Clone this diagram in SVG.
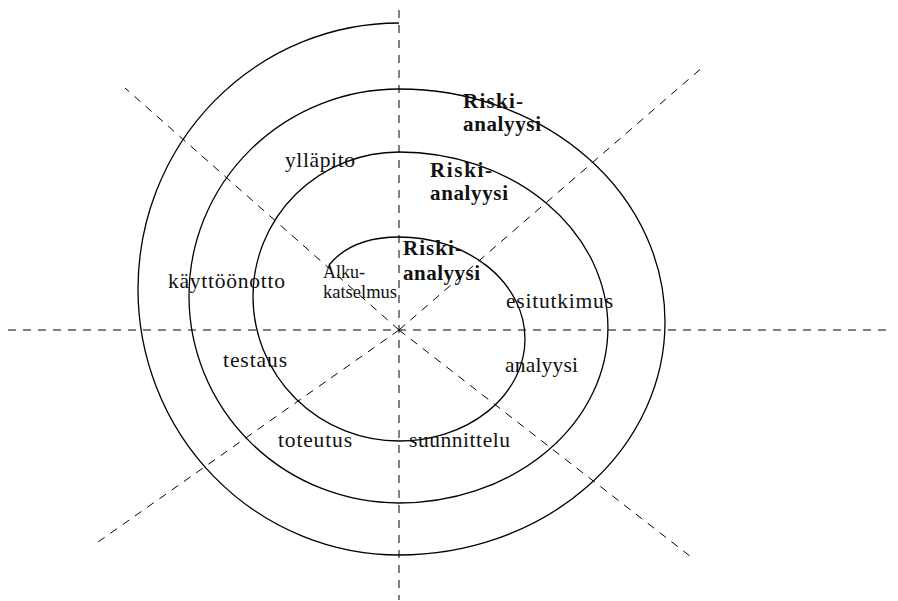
<svg xmlns="http://www.w3.org/2000/svg" width="898" height="601" viewBox="0 0 898 601">
  <style>
    .axis { stroke: #000; stroke-width: 1; stroke-dasharray: 8 7; fill: none; }
    .spiral { stroke: #000; stroke-width: 1.3; fill: none; }
    .lbl { font-family: "Liberation Serif", "Times New Roman", serif; font-size: 21.5px; fill: #111; }
    .small { font-size: 19px; }
    .risk { font-weight: bold; font-size: 21px; }
  </style>
  <rect width="898" height="601" fill="#fff"/>

  <!-- dashed sector axes -->
  <g id="axes">
    <line class="axis" x1="8" y1="330" x2="893" y2="330"/>
    <line class="axis" x1="399" y1="10" x2="399" y2="600"/>
    <line class="axis" x1="399" y1="330" x2="704" y2="66"/>
    <line class="axis" x1="399" y1="330" x2="98" y2="542"/>
    <line class="axis" x1="399" y1="330" x2="125" y2="88"/>
    <line class="axis" x1="399" y1="330" x2="695" y2="560"/>
  </g>

  <!-- spiral built from alternating half-ellipses -->
  <g id="spiral">
    <path class="spiral" d="M329,265 Q352,237 399,237
      A126,102 0 0 1 399,441
      A146,144.5 0 0 1 399,152
      A209,175.5 0 0 1 399,503
      A210,207 0 0 1 399,89
      A266,233 0 0 1 399,555
      A261,266 0 0 1 399,23"/>
  </g>

  <!-- phase labels -->
  <g id="alkukatselmus">
    <text class="lbl small" x="323" y="278" textLength="42" lengthAdjust="spacingAndGlyphs">Alku-</text>
    <text class="lbl small" x="323" y="298" textLength="74" lengthAdjust="spacingAndGlyphs">katselmus</text>
  </g>
  <g id="riski1">
    <text class="lbl risk" x="403" y="255" textLength="59" lengthAdjust="spacing">Riski-</text>
    <text class="lbl risk" x="403" y="280" textLength="77" lengthAdjust="spacing">analyysi</text>
  </g>
  <g id="riski2">
    <text class="lbl risk" x="430" y="177" textLength="62" lengthAdjust="spacing">Riski-</text>
    <text class="lbl risk" x="430" y="200" textLength="78" lengthAdjust="spacing">analyysi</text>
  </g>
  <g id="riski3">
    <text class="lbl risk" x="463" y="108" textLength="60" lengthAdjust="spacing">Riski-</text>
    <text class="lbl risk" x="463" y="131" textLength="78" lengthAdjust="spacing">analyysi</text>
  </g>
  <g id="esitutkimus">
    <text class="lbl" x="506" y="308" textLength="107" lengthAdjust="spacing">esitutkimus</text>
  </g>
  <g id="analyysi">
    <text class="lbl" x="505" y="372" textLength="73" lengthAdjust="spacing">analyysi</text>
  </g>
  <g id="suunnittelu">
    <text class="lbl" x="409" y="447" textLength="101" lengthAdjust="spacing">suunnittelu</text>
  </g>
  <g id="toteutus">
    <text class="lbl" x="278" y="447" textLength="74" lengthAdjust="spacing">toteutus</text>
  </g>
  <g id="testaus">
    <text class="lbl" x="223" y="367" textLength="64" lengthAdjust="spacing">testaus</text>
  </g>
  <g id="kayttoonotto">
    <text class="lbl" x="168" y="288" textLength="117" lengthAdjust="spacing">käyttöönotto</text>
  </g>
  <g id="yllapito">
    <text class="lbl" x="285" y="167" textLength="70" lengthAdjust="spacing">ylläpito</text>
  </g>
</svg>
